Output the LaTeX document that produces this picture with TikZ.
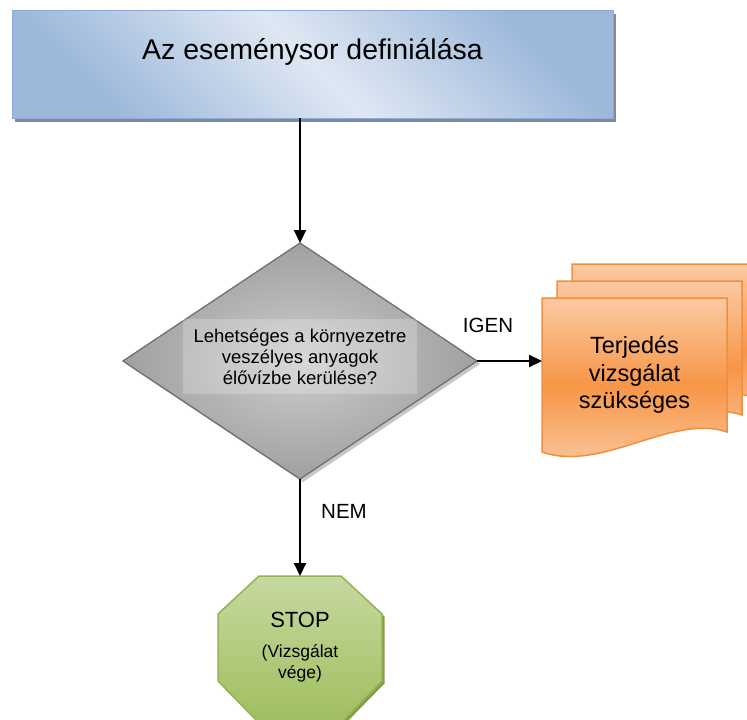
\documentclass[tikz,border=0pt]{standalone}
\usepackage{fontspec}
\setmainfont{Liberation Sans}
\usetikzlibrary{arrows.meta,shapes.geometric,shadows}
\definecolor{tDark}{HTML}{9BB7DA}
\definecolor{tLight}{HTML}{DFE8F3}
\definecolor{tLine}{HTML}{8EAADB}
\definecolor{tShadow}{HTML}{7F8B99}
\definecolor{dLight}{HTML}{CDCDCD}
\definecolor{dDark}{HTML}{A0A0A0}
\definecolor{dLine}{HTML}{727272}
\definecolor{dShadow}{HTML}{C8C8C8}
\definecolor{oLight}{HTML}{FBC9A2}
\definecolor{oMid}{HTML}{F79646}
\definecolor{oLine}{HTML}{F0903F}
\definecolor{gLight}{HTML}{C6D9A0}
\definecolor{gMid}{HTML}{9FBE5E}
\definecolor{gLine}{HTML}{93B254}
\definecolor{gShadow}{HTML}{829E4A}
\begin{document}
\begin{tikzpicture}[x=1pt,y=-1pt,
  arr/.style={line width=2.2pt,-{Triangle[length=13pt,width=12pt]}},
  lbl/.style={font=\fontsize{20.5}{24}\selectfont,inner sep=0pt},
  docshape/.style={draw=oLine,line width=1.5pt,top color=oLight,bottom color=oLight,middle color=oMid},
]
\useasboundingbox (0,0) rectangle (747,720);

% title box
\node[draw=tLine, line width=1pt, minimum width=601pt, minimum height=108pt,
      inner sep=0pt, outer sep=0pt,
      top color=tDark, bottom color=tDark, middle color=tLight, shading angle=-45,
      drop shadow={shadow xshift=3pt,shadow yshift=-4pt,fill=tShadow,opacity=1}]
      (title) at (312.5,64) {};
\node[font=\fontsize{28.5}{34}\selectfont, inner sep=0pt] (titletext) at (312.5,52) {Az eseménysor definiálása};

% decision diamond
\node[diamond, draw=dLine, line width=1.3pt, minimum width=354pt, minimum height=236pt,
      inner sep=0pt, outer sep=0pt, outer color=dDark, inner color=dLight,
      drop shadow={shadow xshift=3pt,shadow yshift=-3pt,fill=dShadow,opacity=1}]
      (dia) at (300,361) {};
\node[fill=white, fill opacity=0.22, text opacity=1, minimum width=234pt, minimum height=75pt,
      inner sep=0pt, align=center, font=\fontsize{18.5}{21}\selectfont]
      (q) at (300,356.5) {Lehetséges a környezetre\\veszélyes anyagok\\élővízbe kerülése?};

% document stack
\path[docshape] (572,264) -- (757,264) -- (757,398) .. controls (702,379) and (632,439) .. (572,418) -- cycle;
\path[docshape] (557,281) -- (742,281) -- (742,415) .. controls (687,396) and (617,456) .. (557,435) -- cycle;
\path[docshape] (542,298) -- (727,298) -- (727,432) .. controls (672,413) and (602,473) .. (542,452) -- cycle;
\node[font=\fontsize{23.5}{27.5}\selectfont, align=center, minimum width=185pt, inner sep=0pt, outer sep=0pt]
      (docs) at (634.5,375) {Terjedés\\vizsgálat\\szükséges};

% stop octagon
\path[draw=gLine, line width=1.5pt, top color=gLight, bottom color=gMid,
      drop shadow={shadow xshift=2.5pt,shadow yshift=-2.5pt,fill=gShadow,opacity=1}]
  (259,576) -- (341,576) -- (382,614) -- (382,681) -- (341,723) -- (259,723) -- (218,681) -- (218,614) -- cycle;
\node[minimum width=164pt, minimum height=147pt, inner sep=0pt, outer sep=0pt] (stop) at (300,649.5) {};
\node[font=\fontsize{22}{26}\selectfont, inner sep=0pt] (stoptxt) at (300,620) {STOP};
\node[font=\fontsize{17.5}{21}\selectfont, align=center, inner sep=0pt] (stopsub) at (300,663) {(Vizsgálat\\vége)};

% connectors
\draw[arr] (title.south -| dia.north) -- (dia.north);
\draw[arr] (dia.east) -- (dia.east -| docs.west);
\draw[arr] (dia.south) -- (stop.north);
\node[lbl] (igen) at (488,325) {IGEN};
\node[lbl] (nem) at (344,511) {NEM};
\end{tikzpicture}
\end{document}
